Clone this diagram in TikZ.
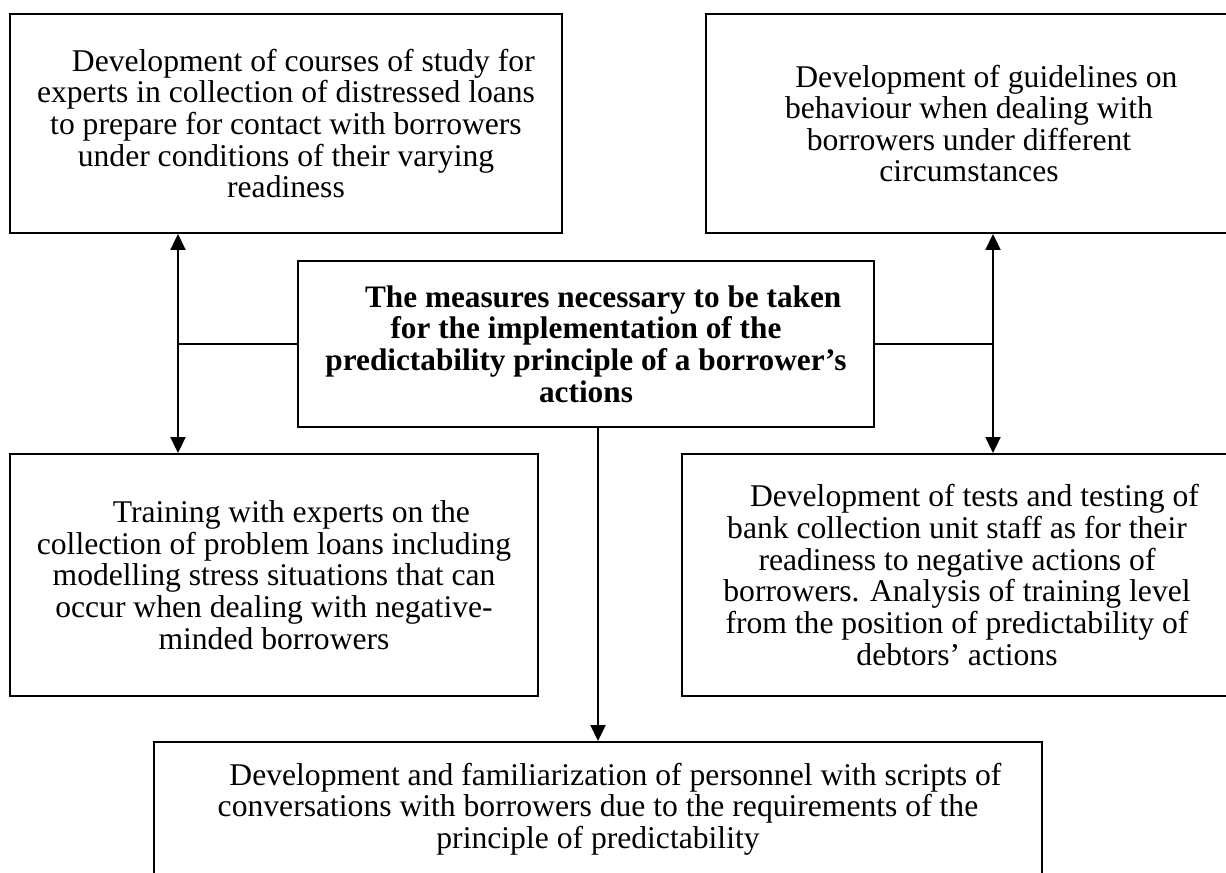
\documentclass[tikz,border=0pt]{standalone}
\usepackage{fontspec}
\setmainfont{Liberation Serif}
\usetikzlibrary{arrows.meta}

\newcommand{\indentline}{\hspace*{1.1em}}

\tikzset{
  measurebox/.style={draw, line width=1.1pt, align=center, inner sep=0pt,
    font=\fontsize{18}{18}\selectfont},
  mainbox/.style={measurebox, font=\fontsize{17.8}{18}\selectfont\bfseries},
  conn/.style={line width=1.1pt},
  arr/.style={conn, -{Triangle[length=0.32cm,width=0.3cm]}},
  darr/.style={conn, {Triangle[length=0.32cm,width=0.3cm]}-{Triangle[length=0.32cm,width=0.3cm]}},
}

\begin{document}
\begin{tikzpicture}[x=0.02cm,y=-0.02cm]
  \useasboundingbox (0,0) rectangle (1226,872);

  % central box
  \node[mainbox, minimum width=11.52cm, minimum height=3.32cm] (measures) at (586,344)
    {\indentline The measures necessary to be taken\\
     for the implementation of the\\
     predictability principle of a borrower's\\
     actions};

  % upper row
  \node[measurebox, minimum width=11.04cm, minimum height=4.38cm] (courses) at (286,123.5)
    {\indentline Development of courses of study for\\
     experts in collection of distressed loans\\
     to prepare for contact with borrowers\\
     under conditions of their varying\\
     readiness};
  \node[measurebox, minimum width=10.52cm, minimum height=4.38cm] (guidelines) at (969,123.5)
    {\indentline Development of guidelines on\\
     behaviour when dealing with\\
     borrowers under different\\
     circumstances};

  % lower row
  \node[measurebox, minimum width=10.56cm, minimum height=4.84cm] (training) at (274,575)
    {\indentline Training with experts on the\\
     collection of problem loans including\\
     modelling stress situations that can\\
     occur when dealing with negative-\\
     minded borrowers};
  \node[measurebox, minimum width=11cm, minimum height=4.84cm] (tests) at (957,575)
    {\indentline Development of tests and testing of\\
     bank collection unit staff as for their\\
     readiness to negative actions of\\
     borrowers. Analysis of training level\\
     from the position of predictability of\\
     debtors' actions};

  % bottom box, runs off the lower edge
  \node[measurebox, minimum width=17.76cm, minimum height=2.68cm] (scripts) at (598,809)
    {\indentline Development and familiarization of personnel with scripts of\\
     conversations with borrowers due to the requirements of the\\
     principle of predictability};

  % connectors
  \coordinate (leftjoint) at (178,344);
  \coordinate (rightjoint) at (993,344);
  \draw[darr] (leftjoint |- courses.south) -- (leftjoint |- training.north);
  \draw[conn] (measures.west) -- (leftjoint);
  \draw[darr] (rightjoint |- guidelines.south) -- (rightjoint |- tests.north);
  \draw[conn] (measures.east) -- (rightjoint);
  \draw[arr] (measures.south -| scripts.north) -- (scripts.north);
\end{tikzpicture}
\end{document}
